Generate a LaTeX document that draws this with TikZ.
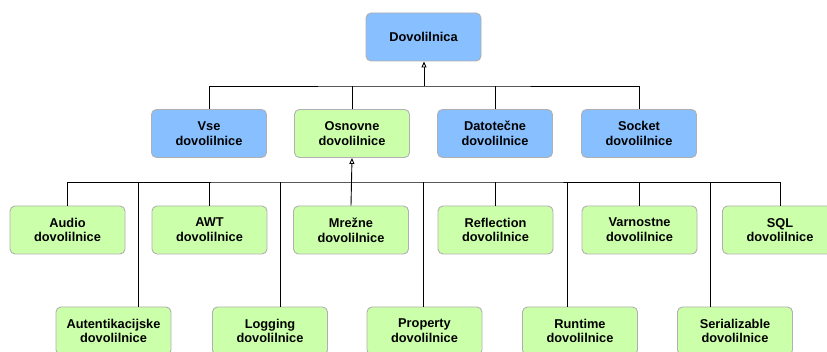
\documentclass[tikz,border=0pt]{standalone}
\usepackage{fontspec}
\setmainfont{Liberation Sans}
\usetikzlibrary{arrows.meta}
\definecolor{bluefill}{RGB}{136,191,255}
\definecolor{greenfill}{RGB}{204,255,170}
\definecolor{boxline}{RGB}{176,176,176}
\tikzset{
  box/.style={draw=boxline, line width=0.9pt, rounded corners=5pt, minimum width=115pt, minimum height=48pt, inner sep=0pt, align=center, font=\fontsize{12.8}{14.7}\selectfont\bfseries},
  bluebox/.style={box, fill=bluefill},
  greenbox/.style={box, fill=greenfill},
  conn/.style={draw=black, line width=0.9pt},
  up/.style={conn, -{Triangle[open, length=6pt, width=5pt]}}
}
\begin{document}
\begin{tikzpicture}[x=1pt, y=-1pt]
\useasboundingbox (0,0) rectangle (827,352);
\fill[white] (0,0) rectangle (827,352);
% nodes
\node[bluebox] (root) at (423.5,37) {Dovolilnica};
\node[bluebox] (vse) at (209,133.5) {Vse\\dovolilnice};
\node[greenbox] (osn) at (352,133.5) {Osnovne\\dovolilnice};
\node[bluebox] (dat) at (495,133.5) {Datotečne\\dovolilnice};
\node[bluebox] (sock) at (639,133.5) {Socket\\dovolilnice};
\node[greenbox] (audio) at (67.5,230) {Audio\\dovolilnice};
\node[greenbox] (awt) at (209.5,230) {AWT\\dovolilnice};
\node[greenbox] (mrez) at (351,230) {Mrežne\\dovolilnice};
\node[greenbox] (refl) at (495.5,230) {Reflection\\dovolilnice};
\node[greenbox] (varn) at (639.5,230) {Varnostne\\dovolilnice};
\node[greenbox] (sql) at (780,230) {SQL\\dovolilnice};
\node[greenbox] (aut) at (113.5,331) {Autentikacijske\\dovolilnice};
\node[greenbox] (log) at (270,331) {Logging\\dovolilnice};
\node[greenbox] (prop) at (424.5,331) {Property\\dovolilnice};
\node[greenbox] (run) at (580,331) {Runtime\\dovolilnice};
\node[greenbox] (ser) at (735,331) {Serializable\\dovolilnice};
% bus coordinates
\coordinate (b1) at (424,86);
\coordinate (b2) at (351,182);
% level 1-2
\draw[conn] (vse.north) |- (b1) -| (sock.north);
\draw[conn] (osn.north) -- (osn.north |- b1);
\draw[conn] (dat.north) -- (dat.north |- b1);
\draw[up] (b1) -- (b1 |- root.south);
% level 2-3
\draw[conn] (audio.north) |- (b2) -| (sql.north);
\draw[conn] (awt.north) -- (awt.north |- b2);
\draw[conn] (refl.north) -- (refl.north |- b2);
\draw[conn] (varn.north) -- (varn.north |- b2);
\draw[up] (mrez.north) -- (osn.south);
% row 4 connectors
\draw[conn] ([xshift=24.5pt]aut.north) -- ([xshift=24.5pt]aut.north |- b2);
\draw[conn] ([xshift=10pt]log.north) -- ([xshift=10pt]log.north |- b2);
\draw[conn] ([xshift=-1.5pt]prop.north) -- ([xshift=-1.5pt]prop.north |- b2);
\draw[conn] ([xshift=-13pt]run.north) -- ([xshift=-13pt]run.north |- b2);
\draw[conn] ([xshift=-25pt]ser.north) -- ([xshift=-25pt]ser.north |- b2);
\end{tikzpicture}
\end{document}
